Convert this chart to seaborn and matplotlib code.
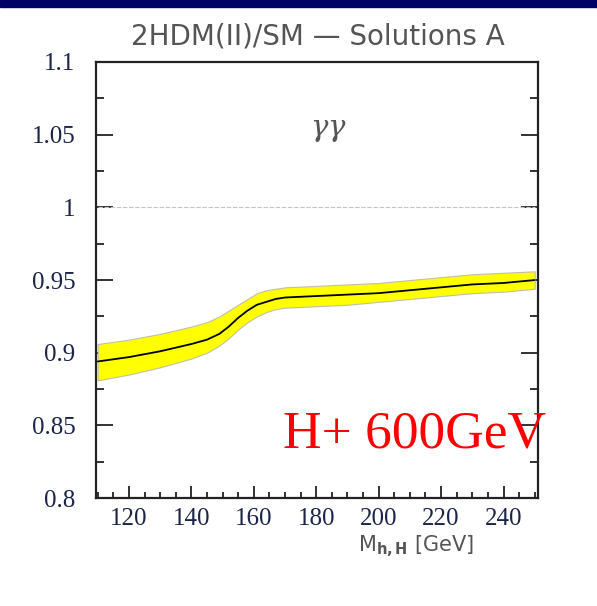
#!/usr/bin/env python3
# 2HDM(II)/SM ratio for gamma-gamma, solutions A, with uncertainty band

import numpy as np
import pandas as pd
import matplotlib
matplotlib.use("Agg")
import matplotlib.pyplot as plt
from matplotlib.patches import Rectangle
from matplotlib.ticker import MultipleLocator
import seaborn as sns

# values
mass = [110, 120, 130, 140, 145, 149, 152, 155, 158, 161, 164, 167, 170, 175,
        180, 190, 200, 210, 220, 230, 240, 250]
ratio = [0.894, 0.897, 0.901, 0.906, 0.909, 0.913, 0.918, 0.924, 0.929, 0.933,
         0.935, 0.937, 0.938, 0.9385, 0.939, 0.940, 0.941, 0.943, 0.945, 0.947,
         0.948, 0.950]
ratio_low = [0.881, 0.885, 0.890, 0.896, 0.900, 0.905, 0.910, 0.916, 0.921, 0.925,
             0.928, 0.930, 0.931, 0.9315, 0.932, 0.933, 0.935, 0.937, 0.939, 0.941,
             0.942, 0.944]
ratio_high = [0.906, 0.909, 0.913, 0.918, 0.921, 0.925, 0.929, 0.933, 0.937, 0.941,
              0.943, 0.944, 0.945, 0.9455, 0.946, 0.947, 0.948, 0.950, 0.952, 0.954,
              0.955, 0.956]
sm_level = 1.0

title = "2HDM(II)/SM \u2014 Solutions A"
xlabel = r"M$_{\mathbf{h,H}}$ [GeV]"
note = "H+ 600GeV"


def main():
    sns.set_theme(style="ticks")
    plt.rcParams["mathtext.fontset"] = "custom"
    plt.rcParams["mathtext.rm"] = "DejaVu Sans"
    plt.rcParams["mathtext.it"] = "DejaVu Serif:italic"
    plt.rcParams["mathtext.bf"] = "DejaVu Sans:bold"
    df = pd.DataFrame({"mass": mass, "ratio": ratio, "low": ratio_low, "high": ratio_high})

    fig = plt.figure(figsize=(5.97, 6.06), dpi=100)
    ax = fig.add_axes([0.161, 0.178, 0.741, 0.7197])

    ax.fill_between(df["mass"], df["low"], df["high"], color="#ffff00",
                    edgecolor="#c0c0a8", linewidth=0.8, zorder=2)
    sns.lineplot(data=df, x="mass", y="ratio", color="black", linewidth=1.3,
                 ax=ax, zorder=3)
    ax.plot([110, 250], [sm_level, sm_level], color="#c4c4c4", linewidth=0.8,
            linestyle=(0, (4, 1.5)), zorder=1)

    ax.set_xlim(109.5, 251.2)
    ax.set_ylim(0.8, 1.1)
    ax.xaxis.set_major_locator(MultipleLocator(20))
    ax.xaxis.set_minor_locator(MultipleLocator(5))
    ax.yaxis.set_major_locator(MultipleLocator(0.05))
    ax.yaxis.set_minor_locator(MultipleLocator(0.025))
    ax.yaxis.set_major_formatter(lambda v, p: f"{v:g}")

    ax.tick_params(which="both", direction="in", right=True, top=False,
                   width=1.3, color="#222222")
    ax.tick_params(which="major", length=9, pad=7)
    ax.tick_params(which="minor", length=4.5)
    ax.tick_params(axis="y", which="major", length=12, pad=15)
    ax.tick_params(axis="y", which="minor", length=6)
    for lab in ax.get_xticklabels() + ax.get_yticklabels():
        lab.set_fontfamily("Liberation Serif")
        lab.set_fontsize(18)
        lab.set_color("#1c2448")
    for sp in ax.spines.values():
        sp.set_visible(True)
        sp.set_linewidth(1.6)
        sp.set_color("#222222")
    ax.set_xlabel("")
    ax.set_ylabel("")

    fig.text(318 / 597, 1 - 36 / 606, title, ha="center", va="center", fontsize=20,
             color="#555555", family="DejaVu Sans")
    ax.text(0.854, -0.11, xlabel, transform=ax.transAxes, ha="right", va="center",
            fontsize=15, color="#555555")
    ax.text(184, 1.053, r"$\gamma\gamma$", ha="center", va="center", fontsize=21,
            color="#555555")
    fig.text(283 / 597, 1 - 447 / 606, note, ha="left", va="baseline", fontsize=38.5,
             color="red", family="Liberation Serif")

    fig.patches.append(Rectangle((0, 1 - 7 / 606), 1, 7 / 606, transform=fig.transFigure,
                                 color="#000066", zorder=0))

    fig.savefig("out.png", dpi=100)


if __name__ == "__main__":
    main()
